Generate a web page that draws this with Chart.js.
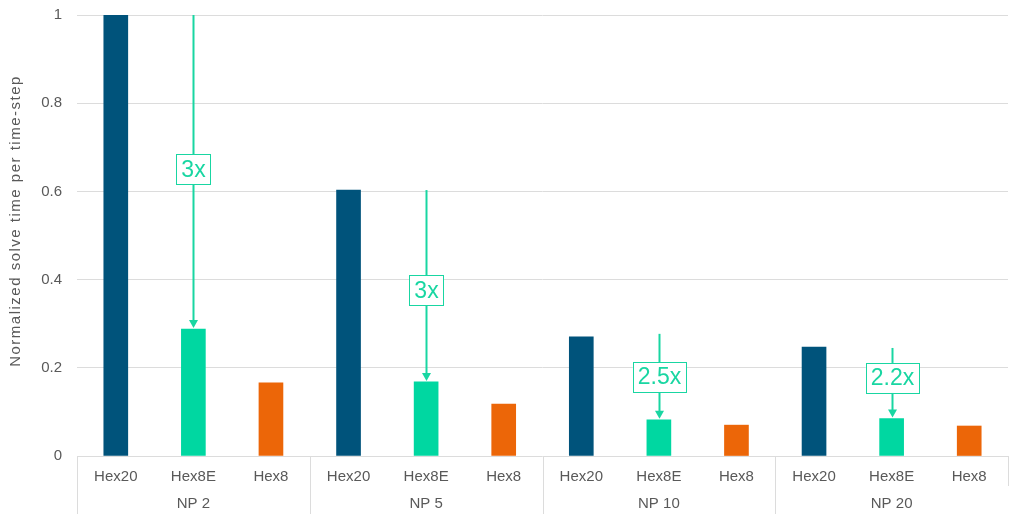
<!DOCTYPE html>
<html>
<head>
<meta charset="utf-8">
<script src="https://cdn.jsdelivr.net/npm/chart.js@4"></script>
<style>
  html,body{margin:0;padding:0;background:#fff;}
  #wrap{width:1024px;height:521px;position:relative;}
</style>
</head>
<body>
<div id="wrap"><canvas id="c"></canvas></div>
<script>
// data
const groups   = ["NP 2", "NP 5", "NP 10", "NP 20"];
const elements = ["Hex20", "Hex8E", "Hex8"];
const hex20    = [1.0, 0.603, 0.270, 0.247];
const hex8e    = [0.288, 0.168, 0.082, 0.085];
const hex8     = [0.166, 0.118, 0.070, 0.068];
const yTicks   = [0, 0.2, 0.4, 0.6, 0.8, 1];

// speed-up arrows (from Hex20 level down to the Hex8E bar)
const arrowFrom  = [1.0, 0.603, 0.277, 0.245];
const arrowLabel = ["3x", "3x", "2.5x", "2.2x"];
const labelAt    = [0.650, 0.376, 0.179, 0.177];

const colors = {Hex20:"#00537B", Hex8E:"#00D7A1", Hex8:"#EC6608"};
const green = "#19D6A2";
const grey = "#595959";
const lineGrey = "#dcdcdc";
const FONT = "'Liberation Sans', Arial, sans-serif";

// flatten into 12 categories
const labels = [], values = [], barColors = [];
groups.forEach((g, i) => {
  const vals = [hex20[i], hex8e[i], hex8[i]];
  elements.forEach((e, j) => {
    labels.push(e); values.push(vals[j]); barColors.push(colors[e]);
  });
});

// extra drawing: group labels, separators, y title, arrows
const extras = {
  id: "extras",
  afterDraw(chart){
    const ctx = chart.ctx, x = chart.scales.x, y = chart.scales.y, a = chart.chartArea;
    const step = (a.right - a.left) / labels.length;
    ctx.save();
    // group separators + names
    ctx.strokeStyle = lineGrey; ctx.lineWidth = 1;
    for(let g = 0; g <= groups.length; g++){
      const px = Math.round(a.left + g*3*step) + 0.5;
      ctx.beginPath(); ctx.moveTo(px, a.bottom);
      ctx.lineTo(px, g === groups.length ? a.bottom + 30 : 514); ctx.stroke();
    }
    ctx.fillStyle = grey; ctx.font = "15px " + FONT;
    ctx.textAlign = "center"; ctx.textBaseline = "middle";
    groups.forEach((g, i) => ctx.fillText(g, a.left + (i*3 + 1.5)*step, 504));

    // y axis title
    ctx.save();
    ctx.translate(16, 221); ctx.rotate(-Math.PI/2);
    ctx.font = "15px " + FONT; ctx.fillStyle = grey;
    ctx.letterSpacing = "1.5px";
    ctx.fillText("Normalized solve time per time-step", 0, 0);
    ctx.restore();

    // arrows
    groups.forEach((g, i) => {
      const px = Math.round(x.getPixelForValue(i*3 + 1)) + 0.5;
      const y0 = y.getPixelForValue(arrowFrom[i]);
      const y1 = y.getPixelForValue(hex8e[i]);
      ctx.strokeStyle = green; ctx.fillStyle = green; ctx.lineWidth = 2;
      ctx.beginPath(); ctx.moveTo(px, y0); ctx.lineTo(px, y1 - 7); ctx.stroke();
      ctx.beginPath(); ctx.moveTo(px - 4.5, y1 - 9); ctx.lineTo(px + 4.5, y1 - 9);
      ctx.lineTo(px, y1 - 1); ctx.closePath(); ctx.fill();
      // label box
      const ly = y.getPixelForValue(labelAt[i]);
      ctx.font = "23px " + FONT;
      const w = ctx.measureText(arrowLabel[i]).width + 10, h = 30;
      ctx.fillStyle = "#fff";
      ctx.fillRect(px - w/2, ly - h/2, w, h);
      ctx.lineWidth = 1; ctx.strokeStyle = green;
      ctx.strokeRect(Math.round(px - w/2) + 0.5, Math.round(ly - h/2) + 0.5, Math.round(w), h);
      ctx.fillStyle = green; ctx.textAlign = "center"; ctx.textBaseline = "middle";
      ctx.fillText(arrowLabel[i], px, ly + 1);
    });
    ctx.restore();
  }
};

new Chart(document.getElementById("c"), {
  type: "bar",
  data: {labels, datasets: [{data: values, backgroundColor: barColors,
    barThickness: 24, borderWidth: 0}]},
  options: {
    responsive: true, maintainAspectRatio: false, animation: false,
    layout: {padding: {top: 15, right: 16, left: 0, bottom: 0}},
    plugins: {legend: {display: false}, tooltip: {enabled: false}},
    scales: {
      x: {
        grid: {display: false, drawTicks: false},
        border: {display: false},
        ticks: {color: grey, font: {family: FONT, size: 15}, padding: 12, maxRotation: 0},
        afterFit(s){ s.height = 65; }
      },
      y: {
        min: 0, max: 1,
        afterBuildTicks(s){ s.ticks = yTicks.map(v => ({value: v})); },
        grid: {color: lineGrey, drawTicks: false},
        border: {display: false},
        ticks: {color: grey, font: {family: FONT, size: 15}, padding: 15,
          callback: v => String(v)},
        afterFit(s){ s.width = 77; s.paddingTop = 0; s.paddingBottom = 0; }
      }
    }
  },
  plugins: [extras]
});
</script>
</body>
</html>
